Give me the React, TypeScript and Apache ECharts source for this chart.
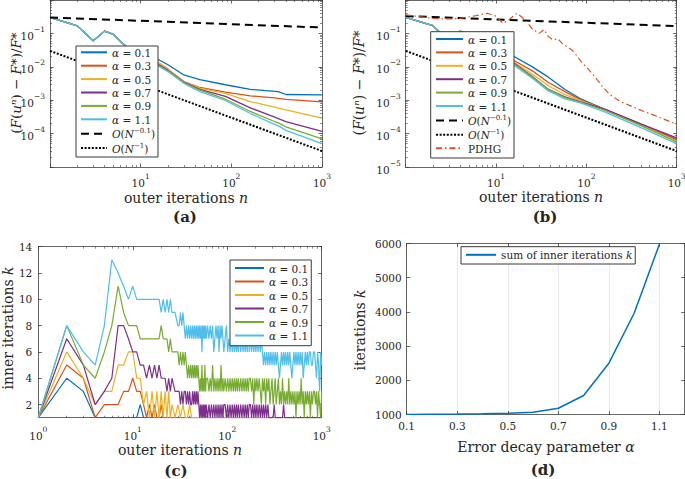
import React, { useEffect, useRef } from 'react';
import * as echarts from 'echarts';

const FONT = 'DejaVu Serif';
const INK = '#262626';
const FRAME = '#3d3d3d';

const alphaValues = ['0.1', '0.3', '0.5', '0.7', '0.9', '1.1'];
const alphaColors = ['#0072BD', '#D95319', '#EDB120', '#7E2F8E', '#77AC30', '#4DBEEE'];

// ---------- panel (a) ----------
const nA = [1, 2, 3, 4, 5, 6, 7, 8, 10, 12, 16, 20, 30, 45, 86, 162, 300, 330, 400, 1000];
const errA01 = [0.30, 0.168, 0.060, 0.117, 0.093, 0.056, 0.040, 0.032, 0.024, 0.020, 0.016, 0.0115, 0.0057, 0.0041, 0.0029, 0.0021, 0.00185, 0.0018, 0.00148, 0.00145];
const errA03 = [0.30, 0.168, 0.060, 0.117, 0.093, 0.056, 0.040, 0.030, 0.021, 0.017, 0.0128, 0.0085, 0.0036, 0.0024, 0.00174, 0.00135, 0.00117, 0.00113, 0.00106, 0.00089];
const errA05 = [0.30, 0.168, 0.060, 0.117, 0.093, 0.056, 0.040, 0.030, 0.021, 0.017, 0.0125, 0.0083, 0.0035, 0.0023, 0.0016, 0.00091, 0.00062, 0.00058, 0.00051, 0.00029];
const errA07 = [0.30, 0.168, 0.060, 0.117, 0.093, 0.056, 0.040, 0.029, 0.020, 0.016, 0.0112, 0.0078, 0.0034, 0.0021, 0.0013, 0.00059, 0.00031, 0.00028, 0.00023, 0.000117];
const errA09 = [0.30, 0.168, 0.060, 0.117, 0.093, 0.056, 0.040, 0.029, 0.020, 0.016, 0.0106, 0.0075, 0.0033, 0.0020, 0.00107, 0.00046, 0.00023, 0.00021, 0.00016, 0.000069];
const errA11 = [0.30, 0.168, 0.060, 0.117, 0.093, 0.056, 0.040, 0.029, 0.020, 0.016, 0.0102, 0.0072, 0.0032, 0.0018, 0.00098, 0.00040, 0.00019, 0.00017, 0.000125, 0.00005];
const rateN = [1, 1000];
const rateSlowA = [0.30, 0.15];
const rateFastA = [0.03, 0.00003];

// ---------- panel (b) ----------
const nB = [1, 2, 3, 4, 5, 6, 8, 10, 12, 16, 25, 38, 58, 88, 160, 374, 1000];
const errB01 = [0.30, 0.17, 0.060, 0.117, 0.093, 0.058, 0.035, 0.028, 0.024, 0.020, 0.0101, 0.0049, 0.0021, 0.00107, 0.00053, 0.00021, 0.000066];
const errB03 = [0.30, 0.17, 0.060, 0.117, 0.093, 0.057, 0.033, 0.025, 0.020, 0.0152, 0.0077, 0.0034, 0.0018, 0.00100, 0.00052, 0.00020, 0.000066];
const errB05 = [0.30, 0.17, 0.060, 0.117, 0.093, 0.056, 0.032, 0.024, 0.019, 0.0133, 0.0061, 0.0027, 0.00146, 0.00095, 0.00051, 0.00020, 0.000060];
const errB07 = [0.30, 0.17, 0.060, 0.117, 0.093, 0.056, 0.031, 0.023, 0.018, 0.0125, 0.0052, 0.0021, 0.00125, 0.00088, 0.00054, 0.00021, 0.000074];
const errB09 = [0.30, 0.17, 0.060, 0.117, 0.093, 0.056, 0.031, 0.023, 0.018, 0.0120, 0.0050, 0.0021, 0.0012, 0.00085, 0.00050, 0.00019, 0.000056];
const errB11 = [0.30, 0.17, 0.060, 0.117, 0.093, 0.056, 0.030, 0.022, 0.017, 0.0108, 0.0046, 0.0019, 0.0011, 0.00082, 0.00045, 0.000165, 0.000050];
const rateSlowB = [0.33, 0.165];
const rateFastB = [0.03, 0.00003];
const pdhgN = [1, 2, 3, 4, 6, 8, 10, 12, 14, 17, 19, 22, 25, 30, 34, 38, 43, 48, 54, 61, 69, 78, 88, 105, 124, 150, 181, 233, 300, 374, 600, 1000];
const pdhgErr = [0.36, 0.28, 0.27, 0.28, 0.34, 0.40, 0.33, 0.20, 0.26, 0.40, 0.32, 0.22, 0.14, 0.10, 0.13, 0.08, 0.063, 0.07, 0.05, 0.04, 0.032, 0.022, 0.014, 0.0085, 0.0051, 0.0026, 0.0015, 0.00093, 0.0007, 0.00054, 0.00033, 0.00019];

// ---------- panel (c) ----------
// coarse grid of outer iterations (used for α = 0.1, 0.3, 0.5)
const nC = [1, 2, 3, 4, 5, 6, 7, 8, 9, 10, 11, 12, 13, 14, 15, 16, 17, 18, 19, 20, 21, 22, 23, 24, 25, 26,
  28, 30, 32, 34, 36, 38, 40, 42, 45, 48, 51, 54, 57, 60, 64, 68, 72, 76, 80, 85, 90, 95, 100,
  106, 112, 118, 125, 132, 140, 148, 156, 165, 175, 185, 195, 206, 218, 230, 243, 257, 272, 288, 305, 323, 342, 362, 383,
  405, 429, 454, 480, 508, 538, 570, 603, 638, 675, 714, 756, 800, 847, 896, 948, 1000];
const kC01 = [1, 4, 3, 1, 1, 1, 1, 1, 1, 1, 1, 2, 1, 1, 1, 1, 1, 1, 1, 1,
  1, 1, 1, 1, 1, 1, 1, 1, 1, 1, 1, 1, 1, 1, 1, 1, 1, 1, 1, 1,
  1, 1, 1, 1, 1, 1, 1, 1, 1, 1, 1, 1, 1, 1, 1, 1, 1, 1, 1, 1,
  1, 1, 1, 1, 1, 1, 1, 1, 1, 1, 1, 1, 1, 1, 1, 1, 1, 1, 1, 1,
  1, 1, 1, 1, 1, 1, 1, 1, 1, 1];
const kC03 = [1, 5, 4, 1, 2, 2, 2, 3, 3, 4, 3, 3, 2, 1, 2, 1, 2, 1, 1, 2,
  1, 1, 1, 1, 1, 1, 1, 1, 1, 1, 1, 1, 1, 1, 1, 1, 1, 1, 1, 1,
  1, 1, 1, 1, 1, 1, 1, 1, 1, 1, 1, 1, 1, 1, 1, 1, 1, 1, 1, 1,
  1, 1, 1, 1, 1, 1, 1, 1, 1, 1, 1, 1, 1, 1, 1, 1, 1, 1, 1, 1,
  1, 1, 1, 1, 1, 1, 1, 1, 1, 1];
const kC05 = [1, 6, 4, 2, 3, 3, 5, 5, 6, 6, 4, 4, 2, 3, 1, 3, 1, 3, 1, 3,
  1, 3, 1, 3, 1, 2, 1, 2, 1, 2, 1, 1, 2, 1, 1, 1, 1, 1, 1, 1,
  1, 1, 1, 1, 1, 1, 1, 1, 1, 1, 1, 1, 1, 1, 1, 1, 1, 1, 1, 1,
  1, 1, 1, 1, 1, 1, 1, 1, 1, 1, 1, 1, 1, 1, 1, 1, 1, 1, 1, 1,
  1, 1, 1, 1, 1, 1, 1, 1, 1, 1];
// early outer iterations n = 1..26, 28, 30 (α = 0.7, 0.9, 1.1)
const nCEarly = [1, 2, 3, 4, 5, 6, 7, 8, 9, 10, 11, 12, 13, 14, 15, 16, 17, 18, 19, 20, 21, 22, 23, 24, 25, 26, 28, 30];
const kC07Early = [1, 7, 5, 2, 3, 4, 8, 8, 7, 6, 6, 5, 5, 4, 5, 4, 5, 4, 5, 4, 4, 4, 3, 4, 3, 4, 3, 3];
const kC09Early = [1, 8, 5, 4, 6, 8, 11, 9, 8, 8, 8, 7, 7, 7, 7, 7, 7, 7, 7, 8, 7, 7, 7, 6, 7, 6, 6, 6];
const kC11Early = [1, 8, 6, 5, 8, 13, 12, 11, 10, 11, 10, 10, 10, 10, 10, 10, 10, 10, 10, 9, 10, 9, 10, 9, 10, 9, 9, 8];
// dense grid of outer iterations n = 31..1000 where k oscillates
const nCDense = [31, 32, 33, 34, 35, 36, 37, 38, 39, 40, 41, 42, 43, 44, 45, 46, 47, 48, 49, 50,
  51, 52, 53, 54, 55, 56, 57, 58, 59, 60, 62, 64, 66, 68, 70, 72, 74, 76, 78, 80, 82, 84, 86, 88, 90, 92,
  95, 98, 101, 104, 107, 110, 113, 116, 119, 122, 125, 128, 131, 135, 139, 143, 147, 151, 155, 159, 163, 167, 171,
  176, 181, 186, 191, 196, 201, 206, 212, 218, 224, 230, 236, 242, 248, 255, 262, 269, 276, 283, 290,
  298, 306, 314, 322, 330, 339, 348, 357, 366, 375, 385, 395, 405, 415, 426, 437, 448, 459, 471, 483, 495,
  508, 521, 534, 548, 562, 576, 591, 606, 621, 637, 653, 670, 687, 704, 722, 740, 759, 778, 798, 818,
  839, 860, 882, 904, 927, 950, 975, 1000];
// k on the dense grid, one digit per outer iteration above
const kC07Dense = '32323323232232323232' + '1212121212' + '1212121212121212' + '2121212121212' + '1212121212' +
  '2121212' + '1212121' + '212111' + '11211' + '11111' + '121' + '11111' + '111' + '111' + '111' + '111' +
  '11' + '111' + '11' + '11' + '11' + '11' + '11' + '11' + '11';
const kC09Dense = '5656565' + '4545454545454' + '3435343534' + '4343534343435343' + '4343434343434' + '3434343434' +
  '4342434' + '3432434' + '243423' + '42342' + '34232' + '423' + '23242' + '323' + '231' + '323' + '242' +
  '31' + '323' + '23' + '13' + '23' + '32' + '31' + '32' + '13';
const kC11Dense = '89898' + '7878787878787878786878787' + '8787867878687876' + '7867676767676' + '7676767686' +
  '7676767' + '6767656' + '565656' + '56565' + '65456' + '565' + '65656' + '545' + '656' + '565' + '656' +
  '45' + '656' + '56' + '65' + '56' + '65' + '46' + '53' + '65';

// ---------- panel (d) ----------
const alphaD = [0.1, 0.2, 0.3, 0.4, 0.5, 0.6, 0.7, 0.8, 0.9, 1.0, 1.1];
const sumK = [1000, 1005, 1012, 1022, 1038, 1067, 1184, 1555, 2500, 3960, 5980];

// ---------- ticks ----------
const decadeTicksX = [1, 10, 100, 1000];
const xLabelsAB = [10, 100, 1000];
const xLabelsC = [1, 10, 100, 1000];
const decadeTicksY = [1e-5, 1e-4, 1e-3, 1e-2, 1e-1, 1];
const yLabelsA = [1e-4, 1e-3, 1e-2, 1e-1];
const yLabelsB = [1e-5, 1e-4, 1e-3, 1e-2, 1e-1];
const kTicks = [2, 4, 6, 8, 10, 12, 14];
const alphaTicks = [0.1, 0.3, 0.5, 0.7, 0.9, 1.1];
const iterTicks = [1000, 2000, 3000, 4000, 5000, 6000];

const tickRich = {
  b: { fontFamily: FONT, fontSize: 10.5, lineHeight: 16, verticalAlign: 'bottom', color: INK },
  e: { fontFamily: FONT, fontSize: 7.5, lineHeight: 8, verticalAlign: 'top', color: INK },
};
const powLabel = (v: number) => {
  const e = Math.round(Math.log10(v));
  return `{b|10}{e|${e < 0 ? '−' + -e : e}}`;
};
const plainLabel = (v: number) => String(v);

const lineSty = { color: FRAME, width: 0.8 };

function xPair(gridIndex: number, type: string, min: number, max: number, ticks: number[], labels: number[], fmt: any, margin: number, split?: any) {
  const common: any = {
    type, gridIndex, min, max,
    axisLine: { show: true, onZero: false, lineStyle: lineSty },
    axisTick: { show: true, inside: true, length: 3.5, customValues: ticks, lineStyle: lineSty },
    minorTick: type === 'log' ? { show: true, splitNumber: 9, length: 2, lineStyle: { color: FRAME, width: 0.6 } } : { show: false },
    splitLine: { show: false },
  };
  return [
    { ...common, position: 'bottom', splitLine: split || { show: false },
      axisLabel: { show: true, customValues: labels, formatter: fmt, margin, color: INK, fontFamily: FONT, fontSize: 10.5, rich: tickRich } },
    { ...common, position: 'top', axisLabel: { show: false } },
  ];
}
function yPair(gridIndex: number, type: string, min: number, max: number, ticks: number[], labels: number[], fmt: any, margin: number) {
  const common: any = {
    type, gridIndex, min, max,
    axisLine: { show: true, onZero: false, lineStyle: lineSty },
    axisTick: { show: true, inside: true, length: 3.5, customValues: ticks, lineStyle: lineSty },
    minorTick: type === 'log' ? { show: true, splitNumber: 9, length: 2, lineStyle: { color: FRAME, width: 0.6 } } : { show: false },
    splitLine: { show: false },
  };
  return [
    { ...common, position: 'left',
      axisLabel: { show: true, customValues: labels, formatter: fmt, margin, color: INK, fontFamily: FONT, fontSize: 10.5, rich: tickRich } },
    { ...common, position: 'right', axisLabel: { show: false } },
  ];
}

function line(name: string, xs: number[], ys: number[], color: string, idx: number, extra: any = {}) {
  return {
    type: 'line', name, xAxisIndex: idx * 2, yAxisIndex: idx * 2,
    data: xs.map((x, i) => [x, ys[i]]),
    symbol: 'none', showSymbol: false, silent: true, clip: true,
    lineStyle: { color, width: 1.3, ...extra },
    itemStyle: { color },
    emphasis: { disabled: true },
  };
}

const legendLabels: Record<string, string> = {};
alphaValues.forEach((a, i) => {
  ['a', 'b', 'c'].forEach((p) => { legendLabels[`${p}${i}`] = `{i|α}{r| = ${a}}`; });
});
legendLabels.aSlow = legendLabels.bSlow = '{i|O}{r|(}{i|N}{e|−0.1}{r|)}';
legendLabels.aFast = legendLabels.bFast = '{i|O}{r|(}{i|N}{e|−1}{r|)}';
legendLabels.pdhg = '{r|PDHG}';
legendLabels.dsum = '{r|sum of inner iterations }{i|k}';

const legendRich = {
  r: { fontFamily: FONT, fontSize: 10.5, lineHeight: 12, verticalAlign: 'bottom', color: INK },
  i: { fontFamily: FONT, fontStyle: 'italic', fontSize: 10.5, lineHeight: 12, verticalAlign: 'bottom', color: INK },
  e: { fontFamily: FONT, fontSize: 7, lineHeight: 7, verticalAlign: 'top', color: INK },
};

function legend(names: string[], left: number, top: number, itemWidth: number, gap: number, padding: number[]) {
  return {
    data: names, orient: 'vertical', left, top, itemWidth, itemHeight: 12, itemGap: gap,
    padding, backgroundColor: '#ffffff', borderColor: '#3a3a3a', borderWidth: 1, borderRadius: 0,
    selectedMode: false, formatter: (n: string) => legendLabels[n],
    itemStyle: { opacity: 0, borderWidth: 0 },
    textStyle: { fontFamily: FONT, fontSize: 10.5, color: INK, rich: legendRich },
  };
}

const errA = [errA01, errA03, errA05, errA07, errA09, errA11];
const errB = [errB01, errB03, errB05, errB07, errB09, errB11];
const digits = (s: string) => s.split('').map(Number);
const nCFull = [...nCEarly, ...nCDense];
const cX = [nC, nC, nC, nCFull, nCFull, nCFull];
const cY = [kC01, kC03, kC05,
  [...kC07Early, ...digits(kC07Dense)],
  [...kC09Early, ...digits(kC09Dense)],
  [...kC11Early, ...digits(kC11Dense)]];

function richFor(size: number) {
  return {
    r: { fontFamily: FONT, fontSize: size },
    i: { fontFamily: FONT, fontSize: size, fontStyle: 'italic' },
  };
}
const yNameAB = '{r|(}{i|F}{r|(}{i|uⁿ}{r|) − }{i|F}{r|*}{r|)/}{i|F}{r|*}';

function txt(text: string, x: number, y: number, rotate = false, bold = false, size = 14) {
  const fs = bold ? 15 : size;
  return {
    type: 'text', x, y, rotation: rotate ? Math.PI / 2 : 0, silent: true, z: 100,
    style: {
      text, fill: INK, fontFamily: FONT, fontSize: fs, fontWeight: bold ? 'bold' : 'normal',
      align: 'center', verticalAlign: 'middle', rich: richFor(fs),
    },
  };
}

function buildOption() {
  const series: any[] = [];
  alphaValues.forEach((_, i) => series.push(line(`a${i}`, nA, errA[i], alphaColors[i], 0)));
  series.push(line('aSlow', rateN, rateSlowA, '#000', 0, { width: 2, type: [8, 5] }));
  series.push(line('aFast', rateN, rateFastA, '#000', 0, { width: 2, type: [2, 1.6] }));
  alphaValues.forEach((_, i) => series.push(line(`b${i}`, nB, errB[i], alphaColors[i], 1)));
  series.push(line('bSlow', rateN, rateSlowB, '#000', 1, { width: 2, type: [8, 5] }));
  series.push(line('bFast', rateN, rateFastB, '#000', 1, { width: 2, type: [2, 1.6] }));
  series.push(line('pdhg', pdhgN, pdhgErr, '#D95319', 1, { width: 1.2, type: [6, 3, 1.5, 3] }));
  alphaValues.forEach((_, i) => series.push(line(`c${i}`, cX[i], cY[i], alphaColors[i], 2, { width: 1.2 })));
  series.push(line('dsum', alphaD, sumK, '#0072BD', 3, { width: 1.5 }));

  const xs = [
    ...xPair(0, 'log', 1, 1000, decadeTicksX, xLabelsAB, powLabel, 5),
    ...xPair(1, 'log', 1, 1000, decadeTicksX, xLabelsAB, powLabel, 5),
    ...xPair(2, 'log', 1, 1000, decadeTicksX, xLabelsC, powLabel, 8),
    ...xPair(3, 'value', 0.1, 1.2, alphaTicks, alphaTicks, (v: number) => v.toFixed(1), 6,
      { show: true, lineStyle: { color: '#e3e3e3', width: 0.8 } }),
  ];
  const ys = [
    ...yPair(0, 'log', 1e-5, 1, decadeTicksY, yLabelsA, powLabel, 5),
    ...yPair(1, 'log', 1e-5, 1, decadeTicksY, yLabelsB, powLabel, 5),
    ...yPair(2, 'value', 1, 14, kTicks, kTicks, plainLabel, 6),
    ...yPair(3, 'value', 1000, 6000, iterTicks, iterTicks, plainLabel, 5),
  ];

  const aNames = [...alphaValues.map((_, i) => `a${i}`), 'aSlow', 'aFast'];
  const bNames = [...alphaValues.map((_, i) => `b${i}`), 'bSlow', 'bFast', 'pdhg'];
  const cNames = alphaValues.map((_, i) => `c${i}`);

  return {
    animation: false,
    backgroundColor: '#ffffff',
    grid: [
      { left: 50, top: 0, width: 272, height: 167, containLabel: false, outerBoundsMode: 'none' },
      { left: 405.7, top: 0, width: 271, height: 167, containLabel: false, outerBoundsMode: 'none' },
      { left: 38.3, top: 246.7, width: 283.4, height: 171, containLabel: false, outerBoundsMode: 'none' },
      { left: 406.7, top: 243.5, width: 278, height: 171, containLabel: false, outerBoundsMode: 'none' },
    ],
    xAxis: xs,
    yAxis: ys,
    legend: [
      legend(aNames, 76, 46, 26, 2.4, [1.3, 3, 2.9, 4]),
      legend(bNames, 430.7, 31.7, 27, 2.4, [2.3, 3, 3.8, 4.3]),
      legend(cNames, 230, 260, 29, 2.5, [3, 3, 4.2, 4]),
      legend(['dsum'], 461, 246.7, 30, 2, [3.1, 3, 3.2, 4]),
    ],
    series,
    graphic: [
      txt(yNameAB, 16, 83, true, false, 13.5),
      txt(yNameAB, 359, 83, true),
      txt('{r|inner iterations }{i|k}', 8, 328, true),
      txt('{r|iterations }{i|k}', 360, 330, true),
      txt('{r|outer iterations }{i|n}', 186, 198),
      txt('{r|outer iterations }{i|n}', 541, 197),
      txt('{r|outer iterations }{i|n}', 180, 450),
      txt('{r|Error decay parameter }{i|α}', 546, 447),
      txt('(a)', 185, 217, false, true),
      txt('(b)', 545, 217, false, true),
      txt('(c)', 176, 471, false, true),
      txt('(d)', 543, 470, false, true),
    ],
  };
}

export default function App() {
  const ref = useRef<HTMLDivElement>(null);
  useEffect(() => {
    if (!ref.current) return;
    const chart = echarts.init(ref.current, undefined, { renderer: 'svg' });
    chart.setOption(buildOption() as any);
    return () => chart.dispose();
  }, []);
  return <div ref={ref} style={{ position: 'absolute', left: 0, top: 0, width: 685, height: 479, background: '#fff' }} />;
}
